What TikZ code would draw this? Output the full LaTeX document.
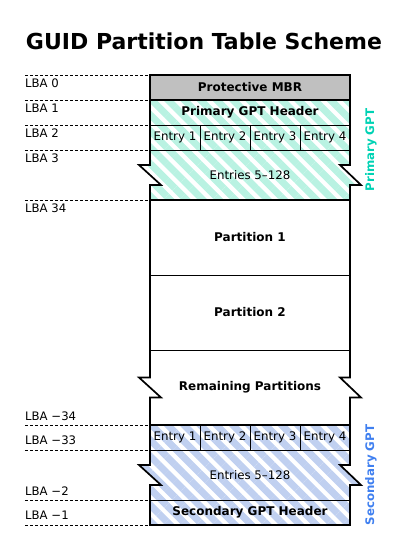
\documentclass[tikz,border=0pt]{standalone}
\usepackage{fontspec}
\setmainfont{DejaVu Sans}
\usetikzlibrary{patterns.meta}
\definecolor{mbrgray}{HTML}{C0C0C0}
\definecolor{mint}{HTML}{B9F2E2}
\definecolor{tealtxt}{HTML}{00D2B4}
\definecolor{bluestripe}{HTML}{C0D0F0}
\definecolor{bluetxt}{HTML}{4080F0}
\tikzset{
  titletext/.style={font=\bfseries\fontsize{22}{25}\selectfont, inner sep=0pt},
  lbl/.style={anchor=west, font=\fontsize{11.7}{13}\selectfont, inner sep=0pt},
  guide/.style={dash pattern=on 3pt off 2pt, line width=0.6pt},
  cell/.style={font=\fontsize{11.8}{13}\selectfont, inner sep=0pt},
  bcell/.style={font=\bfseries\fontsize{12}{13}\selectfont, inner sep=0pt},
  sidelbl/.style={font=\bfseries\fontsize{11.8}{13}\selectfont, inner sep=0pt, rotate=90},
  outerline/.style={line width=1.7pt, line join=miter},
  midline/.style={line width=1.3pt},
  divline/.style={line width=0.8pt},
  hatchA/.style={pattern={Lines[angle=-45,distance=11.5pt,line width=7pt]}, pattern color=mint},
  hatchB/.style={pattern={Lines[angle=-45,distance=11.5pt,line width=7pt]}, pattern color=bluestripe},
}
\begin{document}
\begin{tikzpicture}[x=1pt,y=-1pt]
\useasboundingbox (0,0) rectangle (400,550);
\node[titletext, anchor=base] (title) at (204,49) {GUID Partition Table Scheme};
% fills
\fill[mbrgray] (150,75) rectangle (350,100);
\fill[hatchA] (150,100) -- (350,100) -- (350,165) -- (340,165) -- (361,185) -- (350,185) -- (350,200) -- (150,200) -- (150,185) -- (161,185) -- (139,165) -- (150,165) -- cycle;
\fill[hatchB] (150,425) -- (350,425) -- (350,465) -- (340,465) -- (361,485) -- (350,485) -- (350,525) -- (150,525) -- (150,485) -- (161,485) -- (139,465) -- (150,465) -- cycle;
% guide lines
\foreach \yy in {75,100,125,150,200,425,450,500,525}
  \draw[guide] (25,\yy) -- (150,\yy);
% inner dividers
\foreach \yy in {125,150,275,350,450,500}
  \draw[divline] (150,\yy) -- (350,\yy);
\foreach \xx in {200,250,300} {
  \draw[divline] (\xx,125) -- (\xx,150);
  \draw[divline] (\xx,425) -- (\xx,450);
}
\foreach \yy in {100,200,425}
  \draw[midline] (150,\yy) -- (350,\yy);
% outline
\draw[outerline] (150,75) -- (350,75) -- (350,165) -- (340,165) -- (361,185) -- (350,185)
  -- (350,377.5) -- (340,377.5) -- (361,397.5) -- (350,397.5)
  -- (350,465) -- (340,465) -- (361,485) -- (350,485) -- (350,525)
  -- (150,525) -- (150,485) -- (161,485) -- (139,465) -- (150,465)
  -- (150,397.5) -- (161,397.5) -- (139,377.5) -- (150,377.5)
  -- (150,185) -- (161,185) -- (139,165) -- (150,165) -- cycle;
% block texts
\node[bcell] (mbr) at (250,87.5) {Protective MBR};
\node[bcell] (phdr) at (250,112.5) {Primary GPT Header};
\node[cell] (pe1) at (175,137.5) {Entry 1};
\node[cell] (pe2) at (225,137.5) {Entry 2};
\node[cell] (pe3) at (275,137.5) {Entry 3};
\node[cell] (pe4) at (325,137.5) {Entry 4};
\node[cell] (pent) at (250,175) {Entries 5–128};
\node[bcell] (part1) at (250,237.5) {Partition 1};
\node[bcell] (part2) at (250,312.5) {Partition 2};
\node[bcell] (rest) at (250,387.5) {Remaining Partitions};
\node[cell] (se1) at (175,437.5) {Entry 1};
\node[cell] (se2) at (225,437.5) {Entry 2};
\node[cell] (se3) at (275,437.5) {Entry 3};
\node[cell] (se4) at (325,437.5) {Entry 4};
\node[cell] (sent) at (250,475) {Entries 5–128};
\node[bcell] (shdr) at (250,512.5) {Secondary GPT Header};
% side labels
\node[sidelbl, text=tealtxt] (pgpt) at (371,150) {Primary GPT};
\node[sidelbl, text=bluetxt] (sgpt) at (371,475) {Secondary GPT};
% LBA labels
\node[lbl] (l0) at (25,83.5) {LBA 0};
\node[lbl] (l1) at (25,108.5) {LBA 1};
\node[lbl] (l2) at (25,133) {LBA 2};
\node[lbl] (l3) at (25,158) {LBA 3};
\node[lbl] (l34) at (25,208.5) {LBA 34};
\node[lbl] (lm34) at (25,416) {LBA −34};
\node[lbl] (lm33) at (25,440) {LBA −33};
\node[lbl] (lm2) at (25,491) {LBA −2};
\node[lbl] (lm1) at (25,515.5) {LBA −1};
\end{tikzpicture}
\end{document}
